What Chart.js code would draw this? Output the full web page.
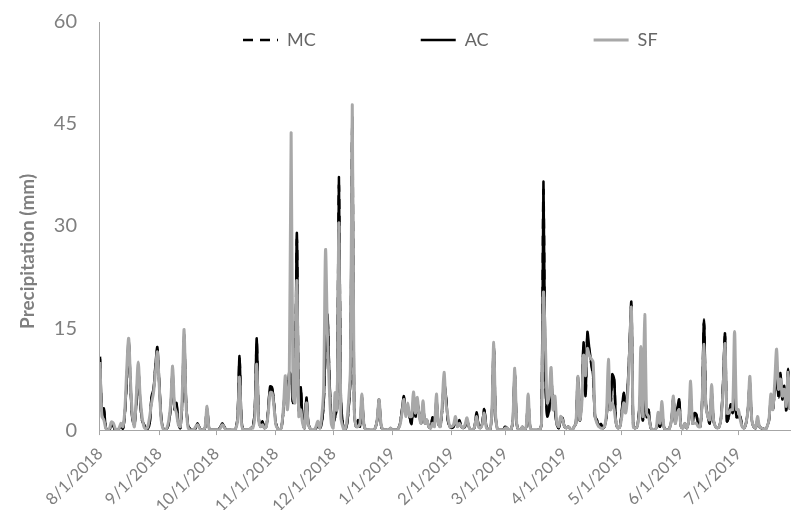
<!DOCTYPE html>
<html>
<head>
<meta charset="utf-8">
<script src="https://cdn.jsdelivr.net/npm/chart.js@4/dist/chart.umd.min.js"></script>
<style>
  html, body { margin: 0; padding: 0; background: #ffffff; }
</style>
</head>
<body>
<canvas id="grafica" width="791" height="510"></canvas>
<script>
// Ejes: primer día de cada mes (índice de día desde 8/1/2018) y sus etiquetas
const inicioMes = [0, 31, 61, 92, 122, 153, 184, 212, 243, 273, 304, 334];
const etiquetasMes = ['8/1/2018', '9/1/2018', '10/1/2018', '11/1/2018', '12/1/2018', '1/1/2019',
                      '2/1/2019', '3/1/2019', '4/1/2019', '5/1/2019', '6/1/2019', '7/1/2019'];
const ticksY = [0, 15, 30, 45, 60];

// Precipitación diaria (mm), una fila por mes: ago, sep, oct, nov, dic, ene, feb, mar, abr, may, jun, jul
const lluviaMC = [
  10.5,2.8,3.0,0.4,0,0,0.9,0.6,0,0,0.2,0.5,0.2,2.4,7.2,12.8,6.2,1.4,0.8,3.8,8.8,4.3,1.4,0.8,0.3,0.2,1.0,4.8,5.8,9.2,11.8,
  6.8,1.9,0.3,0,0.2,1.0,3.4,8.2,2.9,3.8,1.0,0.3,3.8,13.5,4.3,0.8,0.2,0,0,0.3,0.9,0.4,0,0,0.4,3.2,0.4,0,0,0,
  0,0,0.5,0.9,0.5,0,0,0,0,0,0.2,1.9,10.5,1.4,0,0,0,0,0.3,0.5,2.9,13.0,1.9,0.5,1.2,0.3,0.5,2.9,6.2,6.1,3.9,
  1.0,0.2,0,0.5,2.9,6.3,3.9,8.2,7.8,3.9,4.8,28.0,2.9,6.1,1.5,0.3,4.6,1.0,0.2,0,0,0.3,0.8,0.3,1.0,3.9,11.6,16.4,7.7,1.9,
  1.0,1.9,3.1,36.0,4.8,1.0,0,0.5,2.9,7.7,44.5,2.9,0.5,1.4,0.5,4.6,1.0,0,0,0,0,0,0.3,1.4,4.3,0.8,0,0,0,0,0.3,
  0,0,0,0.2,1.0,2.9,4.8,2.4,3.4,1.9,0.9,4.3,1.9,3.9,2.4,1.0,3.4,1.0,1.4,0.5,0.3,1.8,0.8,4.3,1.0,0.5,2.9,6.8,4.8,1.4,0.5,
  0.3,0.5,1.4,0.5,1.4,0.5,0.3,0.5,1.4,0.5,0,0,0.5,2.5,0.8,0.3,1.0,3.0,0.8,0,0,1.9,12.1,1.9,0,0,0,0,
  0.5,0.3,0,0,1.4,8.2,1.0,0,0,0.5,0,0.5,4.3,0.5,0,0,0,0,0,1.0,35.3,8.2,1.9,2.9,7.7,3.9,2.9,0.8,0.3,1.4,1.7,
  0.5,0.3,0.5,0.2,0,0.5,1.0,7.5,1.4,3.9,12.5,4.8,13.9,11.6,9.7,7.7,1.9,1.4,0.5,0.9,0.3,0.5,1.9,5.8,2.9,7.9,7.3,1.0,0.3,0.5,
  2.7,5.3,2.9,5.8,11.6,18.2,0.5,0.3,0.5,2.5,5.8,1.4,4.8,1.9,2.9,0.5,0,0,0.3,1.0,0.5,2.4,0.5,0,0,0.3,1.4,4.5,1.0,2.9,4.3,
  0.5,0.3,1.0,0.3,1.4,4.8,1.0,2.4,2.2,0.8,0.5,3.9,15.8,3.9,1.9,1.0,5.3,1.4,0.5,0.3,0.5,1.9,6.8,13.7,1.3,1.9,3.7,2.4,4.8,1.9,
  1.9,1.9,0.5,0.3,1.0,2.9,6.8,1.4,0.5,0.3,1.4,0.5,0.3,0.2,0,0.5,1.4,4.3,2.9,5.8,7.7,4.8,8.1,4.3,6.3,2.9,8.7,2.9
];

const lluviaAC = [
  10.8,3.0,3.2,0.4,0,0,1.0,0.6,0,0,0.2,0.6,0.2,2.5,7.5,13.2,6.5,1.5,0.8,4.0,9.0,4.5,1.5,0.8,0.3,0.2,1.0,5.0,6.0,9.5,12.2,
  7.0,2.0,0.3,0,0.2,1.0,3.5,8.5,3.0,4.0,1.0,0.3,4.0,14.0,4.5,0.8,0.2,0,0,0.3,1.0,0.4,0,0,0.4,3.3,0.4,0,0,0,
  0,0,0.5,1.0,0.5,0,0,0,0,0,0.2,2.0,10.9,1.5,0,0,0,0,0.3,0.5,3.0,13.5,2.0,0.5,1.3,0.3,0.5,3.0,6.4,6.3,4.0,
  1.0,0.2,0,0.5,3.0,6.5,4.0,8.5,8.0,4.0,5.0,29.0,3.0,6.3,1.5,0.3,4.8,1.0,0.2,0,0,0.3,0.8,0.3,1.0,4.0,12.0,17.0,8.0,2.0,
  1.0,2.0,3.2,37.2,5.0,1.0,0,0.5,3.0,8.0,46.0,3.0,0.5,1.5,0.5,4.8,1.0,0,0,0,0,0,0.3,1.5,4.5,0.8,0,0,0,0,0.3,
  0,0,0,0.2,1.0,3.0,5.0,2.5,3.5,2.0,0.9,4.5,2.0,4.0,2.5,1.0,3.5,1.0,1.5,0.5,0.3,1.9,0.8,4.5,1.0,0.5,3.0,7.0,5.0,1.5,0.5,
  0.3,0.5,1.5,0.5,1.5,0.5,0.3,0.5,1.5,0.5,0,0,0.5,2.6,0.8,0.3,1.0,3.1,0.8,0,0,2.0,12.5,2.0,0,0,0,0,
  0.5,0.3,0,0,1.5,8.5,1.0,0,0,0.5,0,0.5,4.5,0.5,0,0,0,0,0,1.0,36.5,8.5,2.0,3.0,8.0,4.0,3.0,0.8,0.3,1.5,1.8,
  0.5,0.3,0.5,0.2,0,0.5,1.0,7.8,1.5,4.0,12.9,5.0,14.4,12.0,10.0,8.0,2.0,1.5,0.5,0.9,0.3,0.5,2.0,6.0,3.0,8.2,7.5,1.0,0.3,0.5,
  2.8,5.5,3.0,6.0,12.0,18.8,0.5,0.3,0.5,2.6,6.0,1.5,5.0,2.0,3.0,0.5,0,0,0.3,1.0,0.5,2.5,0.5,0,0,0.3,1.5,4.7,1.0,3.0,4.5,
  0.5,0.3,1.0,0.3,1.5,5.0,1.0,2.5,2.3,0.8,0.5,4.0,16.3,4.0,2.0,1.0,5.5,1.5,0.5,0.3,0.5,2.0,7.0,14.2,1.3,2.0,3.8,2.5,5.0,2.0,
  2.0,2.0,0.5,0.3,1.0,3.0,7.0,1.5,0.5,0.3,1.5,0.5,0.3,0.2,0,0.5,1.5,4.5,3.0,6.0,8.0,5.0,8.4,4.5,6.5,3.0,9.0,3.0
];

const lluviaSF = [
  10.0,2.0,1.5,0.3,0,0.3,1.2,1.0,0.2,0,0.3,1.0,0.5,3.0,9.0,13.5,7.0,2.0,0.5,5.0,10.0,5.0,2.0,0.5,0.2,0.5,2.0,4.0,5.5,8.5,11.5,
  6.5,1.5,0.2,0,0.3,1.5,4.0,9.4,3.5,2.5,0.8,0.5,5.0,14.8,4.0,0.5,0,0,0,0.5,0.8,0.3,0,0,0.5,3.5,0.3,0,0,0,
  0,0,0.3,0.8,0.4,0,0,0,0,0,0.2,1.5,7.8,1.0,0,0,0,0,0.3,0.3,2.0,9.7,1.5,0.5,0.8,0.3,0.5,2.5,5.5,5.5,3.5,
  0.8,0.2,0,0.5,3.5,8.0,3.0,7.0,43.7,5.0,4.0,22.0,2.0,3.0,1.0,0.3,4.0,0.8,0.2,0,0,0.5,1.3,0.3,2.0,6.0,26.5,14.0,6.0,1.0,
  0.3,5.5,3.0,30.5,2.0,0.5,0,1.0,4.0,9.0,47.8,3.0,0.5,0.5,1.0,5.3,1.0,0,0,0,0,0,0.3,1.5,4.5,1.0,0,0,0,0,0.3,
  0,0,0,0.2,0.8,2.5,4.5,2.0,4.0,2.0,2.0,5.6,2.5,4.8,2.0,1.0,4.3,1.0,1.5,0.5,0.3,1.0,0.5,5.3,1.0,0.5,3.5,8.5,4.0,2.0,0.5,
  0.5,0.8,2.0,0.5,1.0,0.5,0.3,0.8,1.8,0.5,0,0,0.5,2.0,0.5,0.3,0.8,2.5,0.5,0,0,2.5,12.9,2.0,0,0,0,0,
  0.3,0.3,0,0,1.5,9.1,1.0,0,0,0.5,0,0.5,5.3,0.5,0,0,0,0,0,1.0,20.2,12.9,4.0,5.0,9.2,3.0,5.0,1.0,0.5,2.0,1.5,
  0.5,0.3,0.5,0.2,0,0.5,1.0,7.9,1.5,3.5,11.0,8.0,12.0,11.0,10.5,10.0,2.0,1.0,0.5,0.3,0.3,0.5,2.5,10.4,3.0,4.0,3.0,1.0,0.3,0.5,
  2.0,4.0,2.5,5.0,11.0,18.0,0.5,0.3,0.5,2.0,12.3,2.0,17.0,2.5,2.0,0.5,0,0,0.3,2.6,1.0,4.2,0.5,0,0,0.3,1.5,5.0,1.0,2.5,3.0,
  0.5,0.3,1.0,0.3,1.5,7.2,1.0,1.0,1.0,0.5,0.5,4.0,12.6,3.5,2.0,1.5,6.7,1.5,0.5,0.3,0.5,2.0,6.0,12.7,2.5,2.5,3.0,3.0,14.5,3.0,
  3.0,1.5,0.5,0.3,1.0,3.0,7.9,1.5,0.5,0.3,2.0,0.5,0.3,0.2,0,0.5,1.5,5.3,3.0,7.0,11.9,6.0,7.5,5.0,6.0,3.5,8.5,3.0
];

const grisTexto = '#7f7f7f';
const grisEje = '#a6a6a6';
Chart.defaults.font.family = 'Lato, "Open Sans", sans-serif';

// Convierte la serie diaria a puntos {x: día, y: mm}
function aPuntos(serie) {
    return serie.map((v, i) => ({ x: i, y: v }));
}

// Etiquetas de la leyenda en el orden de las series y con su trazo (discontinuo para MC)
function etiquetasLeyenda(chart) {
    const items = Chart.defaults.plugins.legend.labels.generateLabels(chart);
    items.forEach(item => {
        const ds = chart.data.datasets[item.datasetIndex];
        item.lineDash = ds.borderDash || [];
        item.lineWidth = ds.borderWidth;
        item.strokeStyle = ds.borderColor;
    });
    return items.sort((a, b) => a.datasetIndex - b.datasetIndex);
}

// La leyenda no ocupa espacio y se dibuja dentro del área del gráfico
const leyendaDentro = {
    id: 'leyendaDentro',
    beforeInit(chart) {
        const fitOriginal = chart.legend.fit;
        chart.legend.fit = function () {
            fitOriginal.call(this);
            this.height = 0;
        };
    },
    afterLayout(chart) {
        const padding = chart.options.plugins.legend.labels.padding;
        chart.legend.top = 40 - padding - 9;
        chart.legend.bottom = 80;
        chart.legend.left = 243 - padding;
    }
};

const ctx = document.getElementById('grafica').getContext('2d');
const chart = new Chart(ctx, {
    type: 'line',
    data: {
        datasets: [
            { label: 'MC', data: aPuntos(lluviaMC), borderColor: '#000000', borderWidth: 2.5,
              borderDash: [10, 7], order: 3 },
            { label: 'AC', data: aPuntos(lluviaAC), borderColor: '#000000', borderWidth: 2.5, order: 2 },
            { label: 'SF', data: aPuntos(lluviaSF), borderColor: '#a8a8a8', borderWidth: 3, order: 1 }
        ]
    },
    options: {
        responsive: false,
        animation: false,
        elements: { point: { radius: 0 }, line: { tension: 0.3 } },
        layout: { padding: { left: 15, top: 12, right: 1, bottom: -15 } },
        plugins: {
            legend: {
                position: 'top',
                fullSize: false,
                align: 'start',
                labels: {
                    usePointStyle: true,
                    pointStyle: 'line',
                    pointStyleWidth: 35,
                    padding: 105,
                    color: '#666666',
                    font: { size: 18 },
                    generateLabels: etiquetasLeyenda
                }
            },
            tooltip: { enabled: false }
        },
        scales: {
            x: {
                type: 'linear',
                min: 0,
                max: lluviaAC.length - 1,
                afterBuildTicks: (eje) => { eje.ticks = inicioMes.map(v => ({ value: v })); },
                ticks: {
                    autoSkip: false,
                    minRotation: 45,
                    maxRotation: 45,
                    color: grisTexto,
                    font: { size: 16.5 },
                    padding: 9,
                    callback: (valor, i) => etiquetasMes[i]
                },
                grid: { drawOnChartArea: false, drawTicks: true, tickLength: 5, color: grisEje },
                border: { display: true, color: grisEje }
            },
            y: {
                min: 0,
                max: 60,
                afterBuildTicks: (eje) => { eje.ticks = ticksY.map(v => ({ value: v })); },
                ticks: { color: grisTexto, font: { size: 20 }, padding: 10 },
                grid: { display: true, drawOnChartArea: false, drawTicks: true, tickLength: 13,
                        tickColor: 'rgba(0,0,0,0)' },
                border: { display: true, color: grisEje },
                title: {
                    display: true,
                    text: 'Precipitation (mm)           ',
                    color: grisTexto,
                    font: { size: 19, weight: 'bold' },
                    padding: { top: 1, bottom: 5 }
                }
            }
        }
    },
    plugins: [leyendaDentro]
});
</script>
</body>
</html>
